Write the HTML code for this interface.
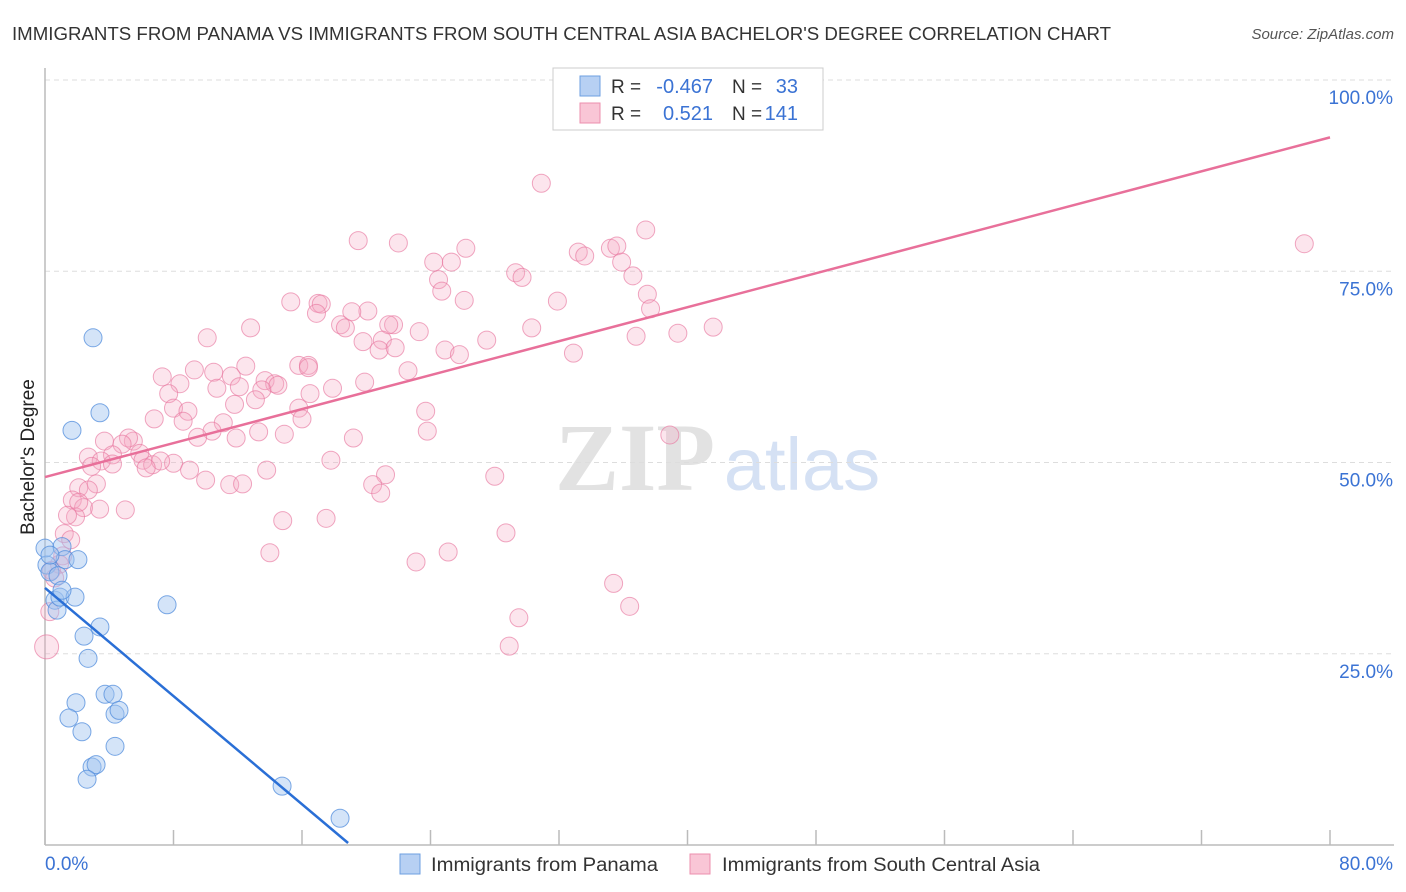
<!DOCTYPE html>
<html><head><meta charset="utf-8">
<style>
body{margin:0;background:#fff;font-family:"Liberation Sans",sans-serif;}
svg{display:block}
</style></head>
<body>
<svg id="chart" width="1406" height="892" xmlns="http://www.w3.org/2000/svg">
<text x="12" y="40" font-size="18" fill="#333" textLength="1099" lengthAdjust="spacingAndGlyphs">IMMIGRANTS FROM PANAMA VS IMMIGRANTS FROM SOUTH CENTRAL ASIA BACHELOR'S DEGREE CORRELATION CHART</text>
<text x="1394" y="39" font-size="15" font-style="italic" fill="#555" text-anchor="end">Source: ZipAtlas.com</text>
<g>
<text x="635" y="490" font-size="96" font-family="Liberation Serif,serif" font-weight="bold" fill="#e2e2e2" text-anchor="middle">ZIP</text>
<text x="802" y="490" font-size="74" fill="#d5e1f4" text-anchor="middle">atlas</text>
</g>
<g id="grid"></g>
<g id="axes"></g>
<g id="marks"></g>
<text transform="translate(34,457) rotate(-90)" font-size="19" fill="#222" text-anchor="middle">Bachelor's Degree</text>
<text x="45" y="870" font-size="19" fill="#3b73d4">0.0%</text>
<text x="1393" y="870" font-size="19" fill="#3b73d4" text-anchor="end">80.0%</text>
<g>
<rect x="553" y="68" width="270" height="62" fill="#fff" stroke="#ccc"/>
<rect x="580" y="76" width="20" height="20" fill="#b7d0f3" stroke="#6e9fe0"/>
<rect x="580" y="103" width="20" height="20" fill="#f9c6d6" stroke="#ec8fae"/>
<text x="611" y="93" font-size="19" fill="#333">R =</text>
<text x="713" y="93" font-size="20" fill="#3b73d4" text-anchor="end">-0.467</text>
<text x="732" y="93" font-size="19" fill="#333">N =</text>
<text x="798" y="93" font-size="20" fill="#3b73d4" text-anchor="end">33</text>
<text x="611" y="120" font-size="19" fill="#333">R =</text>
<text x="713" y="120" font-size="20" fill="#3b73d4" text-anchor="end">0.521</text>
<text x="732" y="120" font-size="19" fill="#333">N =</text>
<text x="798" y="120" font-size="20" fill="#3b73d4" text-anchor="end">141</text>
</g>
<g>
<rect x="400" y="854" width="20" height="20" fill="#b7d0f3" stroke="#6e9fe0"/>
<text x="431" y="871" font-size="19" fill="#333" textLength="227" lengthAdjust="spacingAndGlyphs">Immigrants from Panama</text>
<rect x="690" y="854" width="20" height="20" fill="#f9c6d6" stroke="#ec8fae"/>
<text x="722" y="871" font-size="19" fill="#333" textLength="318" lengthAdjust="spacingAndGlyphs">Immigrants from South Central Asia</text>
</g>
</svg>
<script>
const yTicks=[25,50,75,100];
const yTickLabels=["25.0%","50.0%","75.0%","100.0%"];
const xTicks=[0,8,16,24,32,40,48,56,64,72,80];
const blueX=[0,0.12,0.31,0.62,0.75,0.93,1.06,1.25,1.68,1.87,2.05,2.43,2.68,2.99,3.42,3.42,1.93,1.49,2.30,3.74,4.23,4.36,4.61,4.36,2.93,3.18,2.62,7.60,14.76,18.37,0.31,0.81,1.06];
const blueY=[38.8,36.6,35.7,32.0,30.7,32.4,39.0,37.3,54.2,32.4,37.3,27.3,24.4,66.3,56.5,28.5,18.6,16.6,14.8,19.7,19.7,17.1,17.6,12.9,10.2,10.5,8.6,31.4,7.7,3.5,37.9,35.2,33.3];
const pinkX=[30.9,78.4,37.4,19.5,22.0,26.2,35.2,33.2,35.6,33.6,24.2,25.3,35.9,29.3,29.7,36.6,24.5,24.7,37.5,15.3,17.0,17.2,31.9,26.1,16.9,20.1,37.7,19.1,12.8,10.1,18.4,18.7,21.7,21.4,23.3,30.3,41.6,39.4,36.8,27.5,19.8,21.0,20.8,21.8,24.9,25.8,32.9,15.8,16.4,12.5,9.3,16.4,22.6,7.3,10.5,8.4,11.6,10.7,13.7,14.3,14.5,12.1,13.5,13.1,17.9,19.9,7.7,8.0,11.8,16.5,8.9,15.8,6.8,11.1,8.6,16.0,23.7,23.8,13.3,10.4,9.5,14.9,11.9,19.2,38.9,3.7,5.5,5.2,4.8,5.9,4.2,6.1,6.7,8.0,7.2,6.3,2.7,3.5,4.2,2.9,17.8,9.0,13.8,10.0,11.5,12.3,21.2,20.4,28.0,20.9,3.2,2.1,1.7,2.4,3.4,1.9,1.4,5.0,1.2,14.8,17.5,28.7,14.0,25.1,23.1,1.1,0.9,0.4,0.6,35.4,36.4,29.5,28.9,0.3,0.1,2.7,2.1,1.6];
const pinkY=[86.5,78.6,80.4,79.0,78.7,78.0,78.0,77.5,78.3,77.0,76.2,76.2,76.2,74.8,74.2,74.4,73.9,72.4,72.0,71.0,70.8,70.7,71.1,71.2,69.5,69.8,70.1,69.7,67.6,66.3,68.0,67.6,68.0,68.0,67.1,67.6,67.7,66.9,66.5,66.0,65.8,66.0,64.7,65.0,64.7,64.1,64.3,62.7,62.7,62.6,62.1,62.4,62.0,61.2,61.8,60.3,61.3,59.7,60.7,60.3,60.1,59.9,59.5,58.2,59.7,60.5,59.0,57.1,57.6,59.0,56.7,57.1,55.7,55.2,55.4,55.7,56.7,54.1,54.0,54.1,53.3,53.7,53.2,53.2,53.6,52.8,52.8,53.2,52.4,51.2,51.0,50.3,49.7,49.9,50.2,49.3,50.7,50.2,49.8,49.5,50.3,49.0,49.0,47.7,47.1,47.2,48.4,47.1,48.2,46.0,47.2,46.7,45.1,44.1,43.9,42.9,43.1,43.8,40.7,42.4,42.7,40.8,38.2,38.3,37.0,37.8,36.7,35.9,34.9,34.2,31.2,29.7,26.0,30.5,25.9,46.4,44.8,39.9];
const blueTrend=[[0,33.6],[18.87,0.26]];
const pinkTrend=[[0,48.1],[80,92.5]];

const NS="http://www.w3.org/2000/svg";
const X0=45,X1=1330,Y0=845,Y100=80;
const sx=v=>X0+(X1-X0)*v/80;
const sy=v=>Y0-(Y0-Y100)*v/100;
function mk(tag,attrs,parent){const e=document.createElementNS(NS,tag);for(const k in attrs)e.setAttribute(k,attrs[k]);parent.appendChild(e);return e;}
const grid=document.getElementById('grid'),axes=document.getElementById('axes'),marks=document.getElementById('marks');
yTicks.forEach((t,i)=>{
  const l=mk('line',{x1:X0,x2:1394,y1:sy(t),y2:sy(t),stroke:'#ddd','stroke-dasharray':'5,4'},grid);
  
  
  const tx=mk('text',{x:1393,y:sy(t)+24,'font-size':19,fill:'#3b73d4','text-anchor':'end'},grid);
  tx.textContent=yTickLabels[i];
  
  
});
const ya=mk('line',{x1:X0,x2:X0,y1:68,y2:Y0,stroke:'#bbb','stroke-width':1.5},axes);


const xa=mk('line',{x1:X0,x2:1394,y1:Y0,y2:Y0,stroke:'#bbb','stroke-width':1.5},axes);


xTicks.forEach(t=>{
  const l=mk('line',{x1:sx(t),x2:sx(t),y1:Y0-15,y2:Y0,stroke:'#bbb','stroke-width':1.5},axes);
  
  
});
pinkX.forEach((x,i)=>{
  const c=mk('circle',{cx:sx(x),cy:sy(pinkY[i]),r:(i===134?12:9),fill:'rgba(246,170,195,0.3)',stroke:'rgba(232,120,160,0.65)','stroke-width':1},marks);
  
  
});
blueX.forEach((x,i)=>{
  const c=mk('circle',{cx:sx(x),cy:sy(blueY[i]),r:9,fill:'rgba(160,195,240,0.45)',stroke:'rgba(80,140,220,0.75)','stroke-width':1},marks);
  
  
});
const pl=mk('line',{x1:sx(pinkTrend[0][0]),y1:sy(pinkTrend[0][1]),x2:sx(pinkTrend[1][0]),y2:sy(pinkTrend[1][1]),stroke:'#e8709a','stroke-width':2.5},marks);


const bl=mk('line',{x1:sx(blueTrend[0][0]),y1:sy(blueTrend[0][1]),x2:sx(blueTrend[1][0]),y2:sy(blueTrend[1][1]),stroke:'#2a6fd6','stroke-width':2.5},marks);


</script>
</body></html>
